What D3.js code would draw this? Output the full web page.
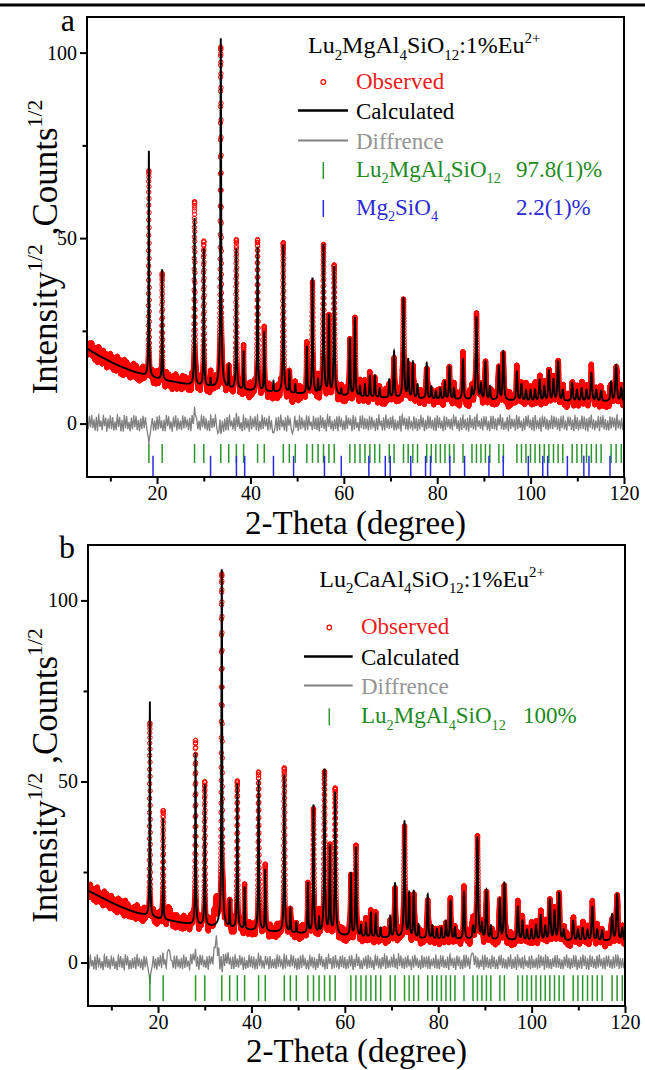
<!DOCTYPE html>
<html><head><meta charset="utf-8">
<script src="https://cdn.jsdelivr.net/npm/d3@7"></script>
<style>
body{margin:0;background:#fff}
svg{display:block}
text{font-family:"Liberation Serif","Times New Roman",serif;white-space:pre}
</style>
</head><body>
<svg id="chart" width="645" height="1070"></svg>
<script>
// ---------------- DATA ----------------
const thetaDomain = [5, 120];
const xTicksMajor = [20, 40, 60, 80, 100, 120];
const xTicksMinor = [10, 30, 50, 70, 90, 110];
const yTicksMajor = [0, 50, 100];
const yTicksMinor = [25, 75];

// Bragg positions (2-theta) of Lu2MgAl4SiO12 garnet phase
const greenTicks = [18.25,21.10,28.03,30.01,33.65,35.35,36.98,38.54,41.53,42.96,47.04,48.33,49.61,52.08,53.29,54.48,55.65,56.80,57.94,61.29,62.38,63.46,64.53,65.58,66.63,67.67,69.73,70.76,72.78,73.78,74.78,75.78,77.75,78.73,79.70,80.68,81.66,82.63,83.59,85.52,87.44,88.40,89.36,90.32,91.28,93.20,94.17,97.06,98.04,99.01,99.98,100.95,101.94,102.92,103.91,104.90,105.89,106.89,108.90,109.92,110.93,111.97,113.01,114.06,115.10,117.24,118.31,119.42];
// Bragg positions of Mg2SiO4 (panel a only)
const blueTicksA = [19.14,31.46,37.0,38.77,44.93,49.24,55.85,59.45,65.36,68.88,69.93,74.33,77.50,78.57,82.71,85.86,91.07,94.14,99.51,102.6,103.65,107.87,111.4,112.5,117.0];

// background (sqrt counts) read along the baseline
const backgroundA = [[5,20.2],[8,18.0],[10,16.7],[12,15.5],[15,14.0],[18,12.8],[22,11.6],[26,10.7],[30,10.0],[35,9.4],[40,8.9],[45,8.5],[50,8.1],[55,7.7],[60,7.4],[70,6.9],[80,6.6],[90,6.3],[100,6.1],[110,6.0],[120,5.9]];
const backgroundB = [[5,19.9],[8,17.9],[10,16.6],[12,15.4],[15,13.9],[20,12.2],[25,11.0],[30,10.1],[35,9.5],[40,8.9],[45,8.5],[50,8.1],[60,7.3],[70,6.8],[80,6.5],[90,6.2],[100,6.1],[110,6.0],[120,5.9]];

// peaks: [2theta, calculated top, observed top, (width)]
const peaksA = [[18.25,73.6,72.0],[21.10,41.4,40.5],[28.03,55.5,58.2],[30.01,47.2,47.5],[31.46,12.0,12.3],[33.65,103.9,101.5],[35.35,15.4,15.6],[36.98,47.0,47.5],[38.54,19.4,19.6],[41.53,47.7,48.5],[42.96,24.8,25.0],[44.93,11.4,11.6],[47.04,48.2,48.4],[48.33,14.0,14.3],[49.61,10.5,10.6],[52.08,20.8,21.0],[53.29,39.3,39.6],[54.48,11.5,11.8],[55.65,48.4,48.6],[56.80,29.3,29.8],[57.94,42.3,42.0],[59.45,9.2,9.3],[61.29,23.0,23.3],[62.38,28.4,28.6],[63.46,10.0,10.2],[64.53,10.5,10.6],[65.58,12.9,13.0],[66.63,12.9,13.1],[67.67,9.5,9.6],[69.73,11.8,11.9],[70.76,19.4,19.6],[72.78,33.8,34.2],[73.78,17.2,17.3],[74.78,16.7,16.9],[75.78,10.5,10.6],[77.75,16.3,16.5],[78.73,10.0,10.1],[79.70,8.6,8.7],[80.68,9.5,9.6],[81.66,11.3,11.4],[82.63,15.4,15.6],[83.59,9.5,9.6],[85.52,17.2,17.4],[87.44,9.5,9.6],[88.40,28.8,29.2],[89.36,10.5,10.6],[90.32,16.7,16.9],[91.28,10.0,10.1],[93.20,15.4,15.6],[94.17,19.4,19.6],[97.06,14.0,14.2],[98.04,10.5,10.6],[99.01,9.0,9.1],[99.98,9.0,9.1],[100.95,9.1,9.2],[101.94,11.8,11.9],[102.92,10.0,10.1],[103.91,14.3,14.5],[104.90,11.8,11.9],[105.89,16.7,16.9],[106.89,9.0,9.1],[108.90,10.9,11.0],[109.92,9.0,9.1],[110.93,9.5,9.6],[111.97,9.0,9.1],[113.01,13.6,13.8],[114.06,9.0,9.1],[115.10,8.8,8.9],[117.24,11.3,11.4],[118.31,15.8,16.0],[119.42,9.5,9.6]];
const peaksB = [[18.25,72.1,69.8],[21.10,39.7,40.9],[28.03,57.9,59.9],[30.01,49.2,49.0],[32.50,null,14.7,0.7],[33.65,108.6,108.0],[35.35,16.7,17.0],[36.98,49.2,49.5],[38.54,20.7,21.0],[41.53,50.5,50.8],[42.96,25.7,26.0],[47.04,51.8,52.8],[48.33,14.7,15.0],[49.61,11.0,11.1],[52.08,22.0,22.3],[53.29,43.6,43.6],[54.48,12.0,12.2],[55.65,53.5,53.5],[56.80,32.4,33.0],[57.94,46.9,46.9],[61.29,24.8,25.0],[62.38,31.7,31.9],[63.46,10.2,10.3],[64.53,10.8,10.9],[65.58,13.8,14.0],[66.63,13.3,13.5],[67.67,9.6,9.7],[69.73,12.8,13.0],[70.76,22.0,22.2],[72.78,39.0,39.3],[73.78,19.3,19.5],[74.78,19.7,19.9],[75.78,10.5,10.6],[77.75,18.8,19.0],[78.73,10.2,10.3],[79.70,9.2,9.3],[80.68,9.6,9.7],[81.66,11.5,11.6],[82.63,17.0,17.2],[83.59,9.6,9.7],[85.52,19.3,19.5],[87.44,9.6,9.7],[88.40,34.7,35.0],[89.36,10.6,10.7],[90.32,20.0,20.2],[91.28,10.0,10.1],[93.20,17.5,17.7],[94.17,21.9,22.1],[97.06,15.4,15.6],[98.04,11.5,11.6],[99.01,9.0,9.1],[99.98,9.2,9.3],[100.95,10.3,10.4],[101.94,13.0,13.1],[102.92,10.0,10.1],[103.91,17.3,17.5],[104.90,14.2,14.4],[105.89,19.1,19.3],[106.89,9.0,9.1],[108.90,11.5,11.6],[109.92,9.0,9.1],[110.93,9.5,9.6],[111.97,9.0,9.1],[113.01,15.4,15.6],[114.06,9.0,9.1],[115.10,8.8,8.9],[117.24,13.3,13.5],[118.31,18.8,19.0],[119.42,9.5,9.6]];

// residual scatter (observed - calculated) read every 0.25 deg from 5 to 120
const noiseStep = 0.25;
const noiseA = [1.3,-1.5,1.9,-1.0,2.3,-1.2,1.0,-1.9,1.8,-2.1,2.4,-0.9,0.8,-1.8,2.1,-0.7,1.6,-2.2,1.2,-1.4,
2.2,-1.5,1.6,-1.9,0.6,-1.8,2.4,-0.9,1.8,-2.1,0.9,-2.2,2.3,-1.3,1.9,-1.5,0.5,-2.1,1.5,-1.6,
2.2,-1.0,1.9,-1.8,1.0,-2.1,1.3,-1.5,2.1,-1.2,1.6,-0.8,-2.8,-3.8,-3.0,-0.6,1.5,-1.9,0.7,-1.8,
1.9,-1.6,2.1,-1.2,1.2,-1.9,1.0,-2.1,2.3,-0.7,1.8,-1.5,0.6,-2.2,1.6,-1.0,2.2,-1.9,1.3,-1.5,
0.8,-1.8,2.1,-1.3,1.9,-0.8,1.0,-1.8,1.5,-2.1,2.2,-0.4,1.6,1.9,1.2,-1.6,0.7,-1.9,2.1,-1.0,
1.8,-1.5,1.3,-1.9,0.8,-2.1,2.2,-1.2,1.5,-1.0,2.4,-0.7,-2.5,-1.9,1.9,-1.3,1.0,-2.1,1.3,-1.8,
1.8,-1.9,2.2,-0.8,0.8,-1.6,1.5,-2.1,2.4,-1.0,1.8,-1.5,0.4,-2.1,2.1,-1.8,1.6,-1.3,1.0,-2.2,
2.1,-1.6,1.3,-1.0,1.9,-1.9,1.5,-2.2,0.7,-1.6,2.3,-1.5,1.6,-0.8,1.2,-1.9,2.1,-1.3,0.7,-2.4,
-2.6,-1.2,1.5,-2.1,1.8,-1.8,2.3,-1.0,0.8,-1.9,1.6,-2.2,2.2,-0.8,1.2,-1.6,-2.7,-1.5,1.9,-1.2,
1.0,-2.1,2.1,-1.6,1.6,-1.0,0.8,-1.9,2.1,-1.8,1.8,-0.7,0.5,-2.1,1.9,-1.5,1.5,-1.8,1.3,-2.2,
2.2,-1.2,1.5,-1.6,1.0,-2.2,2.3,-1.3,1.9,-1.6,0.7,-1.9,1.5,-1.5,1.8,-2.1,2.1,-1.0,1.2,-1.8,
0.8,-1.9,2.1,-1.5,1.6,-0.8,1.0,-2.1,2.3,-1.8,1.6,-1.2,0.4,-2.1,1.8,-1.3,2.2,-1.6,1.3,-1.5,
1.3,-1.9,1.9,-1.6,1.8,-1.0,0.7,-2.1,1.5,-1.8,2.2,-0.8,0.8,-1.9,1.6,-1.9,2.4,-1.2,1.2,-1.6,
1.8,-1.3,1.9,-2.1,1.0,-1.8,0.7,-1.5,2.1,-2.2,2.3,-1.0,1.5,-1.6,1.3,-1.9,1.9,-1.2,0.5,-1.8,
1.9,-1.5,1.3,-2.1,1.2,-1.6,2.2,-1.0,1.6,-2.1,0.8,-1.8,2.1,-1.3,1.8,-1.5,1.0,-1.9,1.5,-2.1,
2.2,-1.2,1.6,-1.5,0.8,-2.1,1.9,-1.9,1.8,-1.0,1.0,-1.6,1.3,-1.8,2.1,-0.8,1.9,-1.5,0.7,-2.1,
1.6,-1.8,2.1,-1.3,1.2,-1.9,1.5,-2.2,2.3,-1.2,1.0,-1.6,1.8,-2.1,2.2,-1.0,0.8,-1.5,1.3,-1.9,
1.9,-1.0,1.6,-1.8,0.7,-2.1,1.9,-1.5,2.1,-1.6,1.2,-1.9,1.5,-0.8,2.3,-1.6,1.6,-1.9,0.5,-1.3,
1.8,-2.1,2.2,-1.5,1.3,-1.0,1.0,-1.9,2.1,-1.6,1.8,-1.2,0.7,-2.1,1.3,-1.8,1.9,-0.8,2.1,-1.3,
1.0,-1.8,1.6,-2.1,2.2,-1.3,0.8,-1.5,1.5,-2.2,1.9,-1.0,1.8,-1.6,1.2,-1.9,0.8,-1.5,2.1,-1.6,
1.9,-1.0,1.5,-1.8,1.2,-2.1,1.8,-1.3,2.1,-1.6,0.7,-1.9,1.9,-0.8,1.6,-1.8,1.0,-2.1,2.2,-1.5,
1.6,-1.9,0.8,-1.3,2.1,-1.5,1.8,-1.9,1.3,-2.2,1.5,-1.2,2.2,-1.6,1.0,-1.8,0.8,-1.3,1.9,-2.1,
1.8,-1.2,2.1,-1.6,1.2,-1.8,0.7,-1.9,1.9,-1.5,1.6,-1.0,1.5,-2.1,2.3,-1.3,1.0,-1.6,1.3,-1.8,
0.8];
const noiseB = [1.4,-1.8,2.1,-1.1,0.7,-1.9,1.6,-2.1,2.3,-1.0,1.1,-1.6,0.4,-2.1,2.2,-1.3,1.8,-1.5,0.8,-1.9,
1.9,-1.0,1.3,-1.8,0.5,-2.1,2.1,-1.3,1.8,-1.5,1.0,-2.2,2.3,-0.8,1.6,-1.9,0.7,-1.8,1.1,-1.5,
1.6,-1.9,2.2,-1.1,1.3,-1.6,0.8,-2.1,1.9,-1.3,1.5,-0.8,-2.6,-3.6,-2.4,-0.9,1.8,-1.6,1.0,-1.9,
1.5,-1.1,1.9,-1.6,2.3,-0.7,0.7,-1.6,2.8,3.6,3.2,0.7,0.5,-1.6,1.8,-1.8,1.9,-1.3,0.8,-1.6,
1.3,-1.8,2.1,-1.5,1.6,-1.0,0.4,-1.9,2.3,-0.5,2.2,0.6,1.9,-1.5,1.3,-2.1,2.1,-0.8,1.8,-1.3,
1.0,-1.6,1.5,-2.1,1.8,-0.7,1.3,-1.0,2.6,0.8,3.0,-1.3,2.9,-2.3,1.9,-2.4,2.3,-1.0,2.3,-0.4,
2.8,-0.7,1.1,-1.8,1.6,-1.9,2.1,-1.3,0.8,-1.5,1.9,-0.8,1.6,-2.1,1.0,-1.8,0.7,-1.5,2.1,-1.3,
1.8,-1.6,1.5,-1.9,1.0,-1.8,2.2,-1.1,1.9,-1.3,0.5,-1.8,1.6,-0.8,1.3,-1.9,1.8,-1.6,0.8,-1.5,
1.1,-1.8,2.1,-1.3,1.9,-1.0,0.7,-2.1,1.5,-1.9,1.8,-1.1,0.8,-1.5,2.1,-1.0,1.9,-1.6,1.0,-2.1,
1.3,-1.9,1.8,-1.5,2.2,-1.0,1.1,-1.8,0.5,-2.1,1.9,-1.1,1.6,-1.6,1.3,-2.1,1.0,-1.5,2.2,-0.8,
1.8,-1.3,0.8,-1.9,1.5,-1.8,2.1,-1.0,1.1,-1.9,1.6,-1.6,2.1,-1.1,0.7,-1.8,1.8,-1.3,1.9,-1.6,
1.5,-1.9,0.8,-1.6,1.9,-1.3,1.8,-2.1,1.0,-1.5,2.2,-1.0,1.6,-1.8,0.5,-1.9,1.3,-1.0,1.6,-1.8,
2.1,-1.5,1.3,-1.6,0.7,-2.1,1.9,-1.1,1.8,-1.6,1.0,-1.9,1.5,-1.1,2.4,-1.8,1.9,-1.5,0.7,-1.6,
1.6,-1.3,2.2,-1.8,1.1,-1.9,2.4,-1.0,1.9,-1.6,1.0,-2.1,1.5,-1.5,1.8,-1.3,0.8,-2.1,1.6,-1.6,
2.1,-1.0,1.1,-1.6,0.7,-1.9,1.9,-1.5,1.6,-1.3,1.5,-1.9,1.8,-1.8,0.8,-1.1,1.3,-1.6,2.1,-1.8,
1.0,-1.9,1.8,-1.3,1.9,-1.5,0.7,-1.6,1.6,-2.1,2.2,-1.1,1.3,-1.5,1.1,-2.1,1.9,-1.0,1.5,-1.8,
0.8,-1.9,1.8,-1.5,2.1,-1.1,1.3,-1.8,1.6,2.6,2.4,-0.8,1.9,-1.6,1.0,-1.8,0.8,-1.3,1.8,-2.1,
2.1,-1.5,1.3,-1.6,1.0,-1.9,1.9,-1.3,1.6,-1.8,0.7,-1.9,1.8,-1.0,1.9,-1.6,1.1,-1.8,0.7,-1.9,
1.6,-1.3,2.1,-1.8,1.0,-1.6,1.5,-2.1,2.1,-1.0,1.1,-1.6,1.5,-1.9,1.8,-1.1,0.5,-1.5,1.6,-1.9,
1.9,-1.6,0.8,-1.5,1.3,-1.9,2.1,-1.6,1.8,-1.0,1.3,-2.1,2.2,-1.5,1.6,-1.8,0.8,-1.9,1.1,-1.3,
1.8,-1.5,1.9,-1.6,1.0,-1.8,0.7,-1.9,1.6,-1.1,2.1,-1.5,1.3,-1.9,1.0,-1.6,1.9,-1.3,1.8,-2.1,
0.7,-1.6,1.5,-1.8,2.1,-1.0,1.6,-1.9,1.1,-2.1,1.9,-1.3,1.5,-1.6,0.8,-1.8,1.8,-1.5,2.1,-1.1,
1.0,-1.8,1.3,-1.9,1.9,-1.1,1.8,-1.5,0.8,-1.9,1.5,-1.6,2.2,-1.3,1.9,-1.8,1.3,-1.6,1.0,-1.6,
0.7];

// ---------------- STYLE ----------------
const C = {red:"#ff0000", redText:"#ee1c1c", black:"#000", gray:"#808080", grayText:"#959595",
           green:"#2a962a", greenText:"#218a21", blue:"#2a2ae0", blueText:"#2b2bd6"};
const FONT = '"Liberation Serif","Times New Roman",serif';

const svg = d3.select("#chart");

// top rule
svg.append("line").attr("x1",0).attr("x2",645).attr("y1",5).attr("y2",5)
  .attr("stroke","#000").attr("stroke-width",3);

function interp(knots, x){
  for (let i=0;i<knots.length-1;i++){
    const a=knots[i], b=knots[i+1];
    if (x>=a[0] && x<=b[0]) return a[1]+(b[1]-a[1])*(x-a[0])/(b[0]-a[0]);
  }
  return x<knots[0][0]?knots[0][1]:knots[knots.length-1][1];
}
function noiseAt(arr, x){
  const f=(x-thetaDomain[0])/noiseStep, i=Math.floor(f), t=f-i;
  const a=arr[Math.max(0,Math.min(arr.length-1,i))], b=arr[Math.max(0,Math.min(arr.length-1,i+1))];
  return a+(b-a)*t;
}
function profile(peaks, bg, col, x){
  const b=interp(bg,x);
  let I=b*b;
  for (const p of peaks){
    const top=p[col]; if (top==null) continue;
    const dx=x-p[0]; if (Math.abs(dx)>6) continue;
    const w=p[3]||(0.07+0.0022*p[0]);
    const bp=interp(bg,p[0]);
    const A=Math.max(0,top*top-bp*bp);
    const u=2*dx/w;
    I+=A*(0.5/(1+u*u)+0.5*Math.exp(-Math.LN2*u*u));
  }
  return Math.sqrt(I);
}

function rich(g, x, y, size, parts, color, anchor){
  const t=g.append("text").attr("x",x).attr("y",y).attr("font-size",size)
    .attr("fill",color).attr("text-anchor",anchor||"start");
  let cur=0;
  parts.forEach(([s,k])=>{
    const off = k==="sub"?0.28*size : k==="sup"?-0.42*size : 0;
    const fs = k==="n"?size:0.62*size;
    t.append("tspan").attr("dy",off-cur).attr("font-size",fs).text(s);
    cur=off;
  });
  return t;
}

function panel(cfg){
  const x=d3.scaleLinear().domain(thetaDomain).range(cfg.xr);
  const y=d3.scaleLinear().domain(cfg.yd).range(cfg.yr);
  const g=svg.append("g");
  const clipId="clip"+cfg.id;
  svg.append("clipPath").attr("id",clipId).append("rect")
    .attr("x",cfg.xr[0]).attr("y",cfg.yr[1]).attr("width",cfg.xr[1]-cfg.xr[0]).attr("height",cfg.yr[0]-cfg.yr[1]);
  const plot=g.append("g").attr("clip-path",`url(#${clipId})`);

  const xs=d3.range(thetaDomain[0], thetaDomain[1]+1e-9, 0.008);
  const rows=xs.map(t=>{
    const calc=profile(cfg.peaks,cfg.bg,1,t);
    const obsM=profile(cfg.peaks,cfg.bg,2,t);
    const n=noiseAt(cfg.noise,t);
    return {t, calc, obs:obsM+n, diff:obsM-calc+n};
  });

  // observed
  plot.append("g").selectAll("circle").data(rows).join("circle")
    .attr("cx",d=>x(d.t)).attr("cy",d=>y(d.obs)).attr("r",2.2)
    .attr("fill","none").attr("stroke",C.red).attr("stroke-width",1);
  // calculated
  plot.append("path").datum(rows).attr("fill","none").attr("stroke",C.black).attr("stroke-width",1.9)
    .attr("d",d3.line().x(d=>x(d.t)).y(d=>y(d.calc)));
  // difference
  plot.append("path").datum(rows).attr("fill","none").attr("stroke",C.gray).attr("stroke-width",1.3)
    .attr("d",d3.line().x(d=>x(d.t)).y(d=>y(d.diff)));
  // Bragg ticks
  cfg.tickRows.forEach(r=>{
    plot.append("g").selectAll("line").data(r.pos).join("line")
      .attr("x1",d=>x(d)).attr("x2",d=>x(d)).attr("y1",y(r.y0)).attr("y2",y(r.y1))
      .attr("stroke",r.color).attr("stroke-width",1.5);
  });

  // frame
  g.append("rect").attr("x",cfg.xr[0]).attr("y",cfg.yr[1]).attr("width",cfg.xr[1]-cfg.xr[0])
    .attr("height",cfg.yr[0]-cfg.yr[1]).attr("fill","none").attr("stroke","#000").attr("stroke-width",2);

  // axes
  const xa=g.append("g").attr("transform",`translate(0,${cfg.yr[0]})`)
    .call(d3.axisBottom(x).tickValues(xTicksMajor).tickSize(7).tickPadding(2).tickSizeOuter(0));
  const xm=g.append("g").attr("transform",`translate(0,${cfg.yr[0]})`)
    .call(d3.axisBottom(x).tickValues(xTicksMinor).tickSize(4.5).tickFormat("").tickSizeOuter(0));
  const ya=g.append("g").attr("transform",`translate(${cfg.xr[0]},0)`)
    .call(d3.axisLeft(y).tickValues(yTicksMajor).tickSize(7).tickPadding(3).tickSizeOuter(0));
  const ym=g.append("g").attr("transform",`translate(${cfg.xr[0]},0)`)
    .call(d3.axisLeft(y).tickValues(yTicksMinor).tickSize(4.5).tickFormat("").tickSizeOuter(0));
  [xa,xm,ya,ym].forEach(s=>{
    s.attr("font-family",FONT);
    s.select(".domain").remove();
    s.selectAll("line").attr("stroke","#000").attr("stroke-width",2);
    s.selectAll("text").attr("font-size",20).attr("fill","#000");
  });

  // axis titles
  g.append("text").attr("x",(cfg.xr[0]+cfg.xr[1])/2).attr("y",cfg.xTitleY).attr("text-anchor","middle")
    .attr("font-size",33).text("2-Theta (degree)");
  const yt=rich(g,0,0,35,[["Intensity","n"],["1/2","sup"],[" ,Counts","n"],["1/2","sup"]],"#000","middle");
  yt.attr("transform",`translate(${cfg.yTitleX},${(cfg.yr[0]+cfg.yr[1])/2}) rotate(-90)`);

  // panel letter
  g.append("text").attr("x",75).attr("y",cfg.letterY).attr("text-anchor","end").attr("font-size",32).text(cfg.letter);

  // legend
  const L=cfg.legend;
  rich(g,L.fx,L.fy,24,cfg.formula,"#000");
  g.append("circle").attr("cx",L.mx).attr("cy",L.rows[0]-6.5).attr("r",2.3).attr("fill","none").attr("stroke",C.red).attr("stroke-width",1.2);
  rich(g,L.tx,L.rows[0],23,[["Observed","n"]],C.redText);
  g.append("line").attr("x1",L.lx0).attr("x2",L.lx1).attr("y1",L.rows[1]-8).attr("y2",L.rows[1]-8).attr("stroke","#000").attr("stroke-width",2.5);
  rich(g,L.tx,L.rows[1],23,[["Calculated","n"]],"#000");
  g.append("line").attr("x1",L.lx0).attr("x2",L.lx1).attr("y1",L.rows[2]-8).attr("y2",L.rows[2]-8).attr("stroke",C.gray).attr("stroke-width",2);
  rich(g,L.tx,L.rows[2],23,[["Diffrence","n"]],C.grayText);
  cfg.phases.forEach((ph,i)=>{
    const yb=L.rows[3+i];
    g.append("line").attr("x1",L.mx).attr("x2",L.mx).attr("y1",yb-15).attr("y2",yb+2)
      .attr("stroke",ph.color).attr("stroke-width",1.5);
    rich(g,L.tx,yb,23,ph.name,ph.text);
    rich(g,L.px,yb,23,[[ph.pct,"n"]],ph.text);
  });
}

panel({id:"a", letter:"a", letterY:31, xr:[87,624], yd:[-14.4,109.6], yr:[477,17],
  peaks:peaksA, bg:backgroundA, noise:noiseA, xTitleY:534, yTitleX:57,
  tickRows:[{pos:greenTicks,y0:-5.5,y1:-10.6,color:C.green},{pos:blueTicksA,y0:-8.7,y1:-14.4,color:C.blue}],
  formula:[["Lu","n"],["2","sub"],["MgAl","n"],["4","sub"],["SiO","n"],["12","sub"],[":1%Eu","n"],["2+","sup"]],
  legend:{fx:308,fy:53,mx:323.3,tx:356,px:516,lx0:298,lx1:348,rows:[88.5,118.5,148.5,177,215]},
  phases:[{color:C.green,text:C.greenText,name:[["Lu","n"],["2","sub"],["MgAl","n"],["4","sub"],["SiO","n"],["12","sub"]],pct:"97.8(1)%"},
          {color:C.blue,text:C.blueText,name:[["Mg","n"],["2","sub"],["SiO","n"],["4","sub"]],pct:"2.2(1)%"}]
});
panel({id:"b", letter:"b", letterY:558, xr:[88,625], yd:[-12,115.3], yr:[1006,545],
  peaks:peaksB, bg:backgroundB, noise:noiseB, xTitleY:1062, yTitleX:57,
  tickRows:[{pos:greenTicks,y0:-3.5,y1:-10.6,color:C.green}],
  formula:[["Lu","n"],["2","sub"],["CaAl","n"],["4","sub"],["SiO","n"],["12","sub"],[":1%Eu","n"],["2+","sup"]],
  legend:{fx:319.3,fy:586.7,mx:329.3,tx:361,px:523,lx0:304,lx1:352.7,rows:[634,664.5,693.5,723.3]},
  phases:[{color:C.green,text:C.greenText,name:[["Lu","n"],["2","sub"],["MgAl","n"],["4","sub"],["SiO","n"],["12","sub"]],pct:"100%"}]
});
</script>
</body></html>
